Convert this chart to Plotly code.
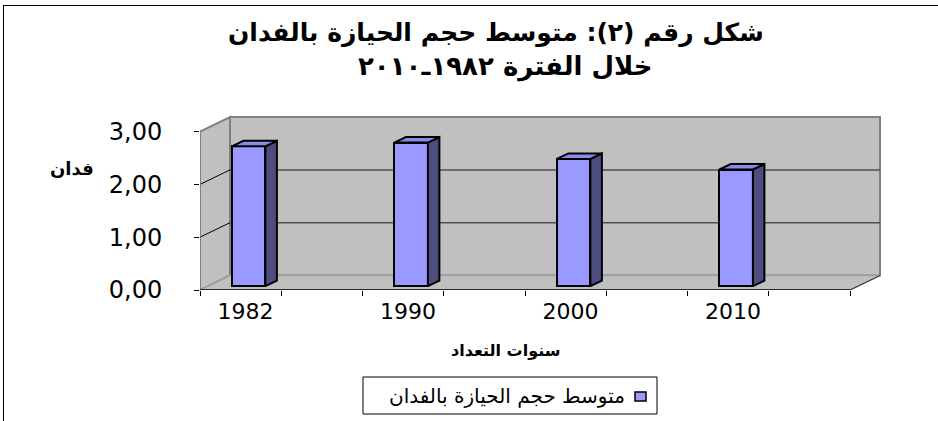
import plotly.graph_objects as go

# ---------------- data ----------------
years = ["1982", "1990", "2000", "2010"]
holding = [2.65, 2.72, 2.41, 2.21]
y_ticks = [0, 1, 2, 3]
title_line1 = "شكل رقم (٢): متوسط حجم الحيازة بالفدان"
title_line2 = "خلال الفترة ١٩٨٢ـ٢٠١٠"
x_title = "سنوات التعداد"
y_title = "فدان"
series_name = "متوسط حجم الحيازة بالفدان"

# ---------------- geometry ----------------
W, H = 938, 421
ML, MR, MT, MB = 200, 47, 110, 131
PX_X = 81.25   # pixels per x unit (front plane)
PX_Y = 52.8    # pixels per y unit
plot_w = W - ML - MR
plot_h = H - MT - MB
x_max = plot_w / PX_X
y_max = plot_h / PX_Y


def ux(px):
    return px / PX_X


def uy(px):
    return px / PX_Y


def xp(px):  # pixel x -> paper
    return (px - ML) / plot_w


def yp(py):  # pixel y -> paper
    return (H - MB - py) / plot_h


n = len(years)
slots = 2 * n
centers = [0.5 + 2 * i for i in range(n)]
top_val = y_ticks[-1]

wdx, wdy = ux(30), uy(14.5)          # wall depth
box, boy = ux(8), uy(3.8)            # bar front-face offset
bdx, bdy = ux(11.5), uy(5.5)         # bar depth
bw = ux(33.5)                        # bar width

WALL = "#C0C0C0"
EDGE = "#808080"
FRONT = "#9999FF"
SIDE = "#4D4D80"
TOP = "#8A8AEA"

shapes = []
# back wall
shapes.append(dict(type="rect", xref="x", yref="y", x0=wdx, x1=slots + wdx,
                   y0=wdy, y1=top_val + wdy, fillcolor=WALL,
                   line=dict(color=EDGE, width=2), layer="below"))
# left wall
shapes.append(dict(type="path", xref="x", yref="y",
                   path=f"M 0,0 L {wdx},{wdy} L {wdx},{top_val + wdy} L 0,{top_val} Z",
                   fillcolor=WALL, line=dict(color=EDGE, width=2), layer="below"))
# floor
shapes.append(dict(type="path", xref="x", yref="y",
                   path=f"M 0,0 L {slots},0 L {slots + wdx},{wdy} L {wdx},{wdy} Z",
                   fillcolor=WALL, line=dict(color="#A0A0A0", width=1.5), layer="below"))
# gridlines
for k in y_ticks[1:-1]:
    shapes.append(dict(type="line", xref="x", yref="y", x0=wdx, x1=slots + wdx,
                       y0=k + wdy, y1=k + wdy, line=dict(color="#505050", width=1.5),
                       layer="below"))
    shapes.append(dict(type="line", xref="x", yref="y", x0=0, x1=wdx,
                       y0=k, y1=k + wdy, line=dict(color="black", width=1),
                       layer="below"))
# front axis lines
shapes.append(dict(type="line", xref="x", yref="y", x0=0, x1=slots, y0=0, y1=0,
                   line=dict(color="black", width=1.5)))
shapes.append(dict(type="line", xref="x", yref="y", x0=slots, x1=slots + wdx, y0=0, y1=wdy,
                   line=dict(color="#303030", width=1)))
shapes.append(dict(type="line", xref="x", yref="y", x0=0, x1=0, y0=0, y1=top_val,
                   line=dict(color="#808080", width=1.5), layer="below"))

# outer chart border (top and left)
shapes.append(dict(type="line", xref="paper", yref="paper", x0=xp(3), x1=xp(938),
                   y0=yp(5.5), y1=yp(5.5), line=dict(color="black", width=1)))
shapes.append(dict(type="line", xref="paper", yref="paper", x0=xp(3.5), x1=xp(3.5),
                   y0=yp(5.5), y1=yp(421), line=dict(color="black", width=1)))

# legend box and key
shapes.append(dict(type="rect", xref="paper", yref="paper", x0=xp(363), x1=xp(657),
                   y0=yp(414), y1=yp(377), fillcolor="white",
                   line=dict(color="black", width=1)))
shapes.append(dict(type="rect", xref="paper", yref="paper", x0=xp(635), x1=xp(646),
                   y0=yp(401), y1=yp(392), fillcolor=FRONT,
                   line=dict(color="black", width=1.5)))

fig = go.Figure()

# front faces
fig.add_trace(go.Bar(
    x=[c + box for c in centers], y=holding, base=boy, width=bw,
    marker=dict(color=FRONT, line=dict(color="black", width=2)),
    name=series_name, showlegend=False, hoverinfo="skip"))

# side and top faces
sx, sy = [], []
tx, ty = [], []
for c, v in zip(centers, holding):
    xl = c + box - bw / 2
    xr = c + box + bw / 2
    b = boy
    t = boy + v
    sx += [xr, xr + bdx, xr + bdx, xr, xr, None]
    sy += [b, b + bdy, t + bdy, t, b, None]
    tx += [xl, xr, xr + bdx, xl + bdx, xl, None]
    ty += [t, t, t + bdy, t + bdy, t, None]

fig.add_trace(go.Scatter(x=sx, y=sy, mode="lines", fill="toself", fillcolor=SIDE,
                         line=dict(color="black", width=2), showlegend=False,
                         hoverinfo="skip"))
fig.add_trace(go.Scatter(x=tx, y=ty, mode="lines", fill="toself", fillcolor=TOP,
                         line=dict(color="black", width=2), showlegend=False,
                         hoverinfo="skip"))

XTICKFONT = dict(family="DejaVu Sans", size=22, color="black")
YTICKFONT = dict(family="DejaVu Sans", size=24, color="black")

fig.update_layout(
    width=W, height=H,
    margin=dict(l=ML, r=MR, t=MT, b=MB, pad=0),
    paper_bgcolor="white", plot_bgcolor="rgba(0,0,0,0)",
    separators=",.",
    showlegend=False,
    bargap=0,
    shapes=shapes,
    xaxis=dict(range=[0, x_max], showgrid=False, zeroline=False, showline=False,
               tickmode="array", tickvals=[c + 0.06 for c in centers], ticktext=years,
               ticks="", tickfont=XTICKFONT, ticklabelstandoff=6,
               minor=dict(tick0=0, dtick=1, ticks="outside", ticklen=5,
                          tickcolor="black", tickwidth=1, showgrid=False)),
    yaxis=dict(range=[0, y_max], showgrid=False, zeroline=False, showline=False,
               tickmode="array", tickvals=y_ticks, tickformat=".2f",
               ticks="outside", ticklen=5, tickcolor="black", tickwidth=1,
               tickfont=YTICKFONT, ticklabelstandoff=27),
    annotations=[
        dict(text=f"<b>{title_line1}</b>", xref="paper", yref="paper",
             x=xp(496), y=yp(33), xanchor="center", yanchor="middle", showarrow=False,
             font=dict(family="DejaVu Sans", size=25, color="black")),
        dict(text=f"<b>{title_line2}</b>", xref="paper", yref="paper",
             x=xp(505), y=yp(66), xanchor="center", yanchor="middle", showarrow=False,
             font=dict(family="DejaVu Sans", size=26, color="black")),
        dict(text=f"<b>{y_title}</b>", xref="paper", yref="paper",
             x=xp(72), y=yp(168), xanchor="center", yanchor="middle", showarrow=False,
             font=dict(family="DejaVu Sans", size=18, color="black")),
        dict(text=f"<b>{x_title}</b>", xref="paper", yref="paper",
             x=xp(505), y=yp(350), xanchor="center", yanchor="middle", showarrow=False,
             font=dict(family="DejaVu Sans", size=16, color="black")),
        dict(text=series_name, xref="paper", yref="paper",
             x=xp(627), y=yp(396), xanchor="right", yanchor="middle", showarrow=False,
             font=dict(family="DejaVu Sans", size=20, color="black")),
    ],
)

fig.write_html("out.html", config={"displayModeBar": False},
               post_script="document.body.style.margin='0';")
